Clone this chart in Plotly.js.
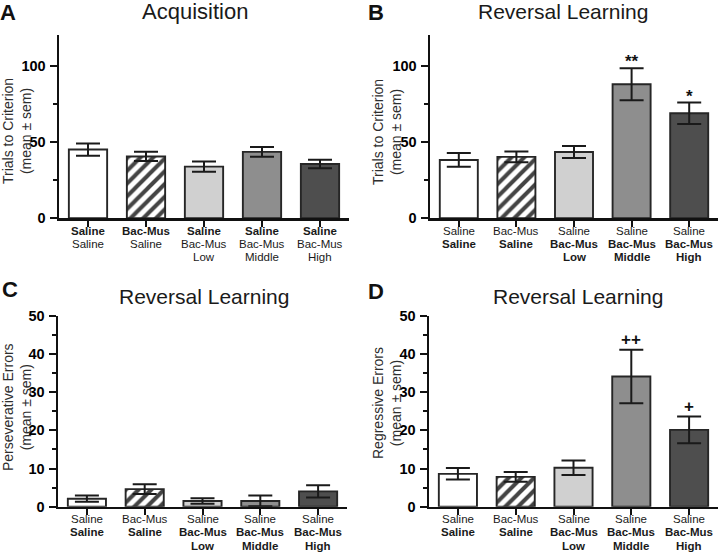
<!DOCTYPE html>
<html>
<head>
<meta charset="utf-8">
<script src="https://cdn.plot.ly/plotly-3.0.1.min.js"></script>
<style>
html,body{margin:0;padding:0;background:#fff;}
#chart{width:720px;height:552px;}
</style>
</head>
<body>
<div id="chart"></div>
<script>
// ---- Data ----
var categories = [0, 1, 2, 3, 4];
var groupNames = ["Saline/Saline", "Bac-Mus/Saline", "Saline/Bac-Mus Low", "Saline/Bac-Mus Middle", "Saline/Bac-Mus High"];

var ticksA = ["<b>Saline</b><br>Saline", "<b>Bac-Mus</b><br>Saline", "<b>Saline</b><br>Bac-Mus<br>Low", "<b>Saline</b><br>Bac-Mus<br>Middle", "<b>Saline</b><br>Bac-Mus<br>High"];
var ticksRev = ["Saline<br><b>Saline</b>", "Bac-Mus<br><b>Saline</b>", "Saline<br><b>Bac-Mus</b><br><b>Low</b>", "Saline<br><b>Bac-Mus</b><br><b>Middle</b>", "Saline<br><b>Bac-Mus</b><br><b>High</b>"];

var yTicksTrials = [0, 50, 100];
var yMinorTrials = [25, 75];
var yTicksErrors = [0, 10, 20, 30, 40, 50];
var yMinorErrors = [5, 15, 25, 35, 45];

var acqMean = [45, 40.5, 33.8, 43.5, 35.5];
var acqSem  = [4, 3, 3.3, 3.2, 2.8];

var revMean = [38.2, 40.2, 43.4, 87.8, 68.8];
var revSem  = [4.5, 3.5, 4, 10.5, 7];

var persMean = [2.1, 4.6, 1.5, 1.5, 4.0];
var persSem  = [0.8, 1.3, 0.7, 1.4, 1.6];

var regMean = [8.6, 7.8, 10.2, 34.1, 20.1];
var regSem  = [1.5, 1.3, 1.9, 7.0, 3.5];

var sigRev = ["", "", "", "**", "*"];
var sigReg = ["", "", "", "++", "+"];

// ---- Styling ----
var FONT = "Liberation Sans, Arial, sans-serif";
var fills = ["#ffffff", "#ffffff", "#d0d0d0", "#8e8e8e", "#4e4e4e"];
var shapes = ["", "/", "", "", ""];

function barTrace(means, sems, xa, ya) {
  return {
    type: "bar",
    x: categories,
    y: means,
    xaxis: xa, yaxis: ya,
    width: 0.66,
    name: "",
    hovertext: groupNames,
    textposition: "none",
    marker: {
      color: fills,
      line: {color: "#262626", width: 1.9},
      pattern: {shape: shapes, fgcolor: "#000000", fgopacity: 1, size: 9, solidity: 0.45, fillmode: "overlay"}
    },
    error_y: {type: "data", array: sems, visible: true, color: "#1a1a1a", thickness: 2, width: 12},
    showlegend: false
  };
}

var data = [
  barTrace(acqMean, acqSem, "x", "y"),
  barTrace(revMean, revSem, "x2", "y2"),
  barTrace(persMean, persSem, "x3", "y3"),
  barTrace(regMean, regSem, "x4", "y4")
];

function xAxis(dom, anchor) {
  return {
    domain: dom, anchor: anchor, range: [-0.5, 4.5],
    tickmode: "array", tickvals: categories, showticklabels: false,
    showline: true, linewidth: 2.5, linecolor: "#111",
    ticks: "outside", ticklen: 6, tickwidth: 2, tickcolor: "#111",
    showgrid: false, zeroline: false, fixedrange: true
  };
}
function yAxis(dom, anchor, rng, major, minor) {
  return {
    domain: dom, anchor: anchor, range: rng,
    tickmode: "array", tickvals: major,
    ticktext: major.map(function (v) { return "<b>" + v + "</b>"; }),
    showline: true, linewidth: 2.5, linecolor: "#111",
    ticks: "outside", ticklen: 7, tickwidth: 2, tickcolor: "#111",
    minor: {tickmode: "array", tickvals: minor, ticks: "outside", ticklen: 4, tickwidth: 2, tickcolor: "#111", showgrid: false},
    showgrid: false, zeroline: false, fixedrange: true,
    ticklabelstandoff: 1,
    tickfont: {family: FONT, size: 14.5, color: "#000"}
  };
}

var W = 720, H = 552;
function px(x) { return x / W; }
function py(y) { return 1 - y / H; }

var domAx = [px(59), px(349)], domBx = [px(430), px(718)];
var domCx = [px(58), px(347)], domDx = [px(429), px(718)];
var domTop = [py(218.2), py(35.2)], domBot = [py(506.7), py(315.7)];

var annotations = [];
function paperText(text, x, y, size, bold, color, angle) {
  annotations.push({
    xref: "paper", yref: "paper", x: px(x), y: py(y),
    xanchor: "center", yanchor: "middle", showarrow: false,
    text: bold ? "<b>" + text + "</b>" : text,
    textangle: angle || 0,
    font: {family: FONT, size: size, color: color || "#111"}
  });
}
// panel letters
paperText("A", 8, 12.5, 22, true);
paperText("B", 376, 12.5, 22, true);
paperText("C", 10, 289, 22, true);
paperText("D", 375.5, 291, 22, true);
// titles
paperText("Acquisition", 195, 12, 22, false, "#1a1a1a");
paperText("Reversal Learning", 563, 12, 21, false, "#1a1a1a");
paperText("Reversal Learning", 204, 296, 21, false, "#1a1a1a");
paperText("Reversal Learning", 578, 297, 21, false, "#1a1a1a");
// y-axis titles
paperText("Trials to Criterion<br>(mean ± sem)", 17, 131, 14, false, "#2e2e2e", -90);
paperText("Trials to Criterion<br>(mean ± sem)", 387, 132, 14, false, "#2e2e2e", -90);
paperText("Perseverative Errors<br>(mean ± sem)", 17, 407, 14, false, "#2e2e2e", -90);
paperText("Regressive Errors<br>(mean ± sem)", 387, 403, 14, false, "#2e2e2e", -90);

// category labels (one line each, tight spacing as in the reference)
function catLabels(ticks, xr, axisPx) {
  var offs = [12.3, 25.6, 38.9];
  for (var i = 0; i < ticks.length; i++) {
    var lines = ticks[i].split("<br>");
    for (var j = 0; j < lines.length; j++) {
      annotations.push({
        xref: xr, yref: "paper", x: categories[i], y: py(axisPx + offs[j]),
        xanchor: "center", yanchor: "middle", showarrow: false,
        text: lines[j],
        font: {family: FONT, size: 11.5, color: "#1a1a1a"}
      });
    }
  }
}
catLabels(ticksA, "x", 218.2);
catLabels(ticksRev, "x2", 218.2);
catLabels(ticksRev, "x3", 506.7);
catLabels(ticksRev, "x4", 506.7);

// significance marks
function sigMarks(marks, means, sems, xr, yr, yshift) {
  for (var i = 0; i < marks.length; i++) {
    if (!marks[i]) continue;
    annotations.push({
      xref: xr, yref: yr, x: categories[i], y: means[i] + sems[i],
      xanchor: "center", yanchor: "bottom", showarrow: false, yshift: yshift,
      text: "<b>" + marks[i] + "</b>",
      font: {family: FONT, size: 17, color: "#111"}
    });
  }
}
sigMarks(sigRev, revMean, revSem, "x2", "y2", -5);
sigMarks(sigReg, regMean, regSem, "x4", "y4", -1);

var layout = {
  width: W, height: H,
  margin: {l: 0, r: 0, t: 0, b: 0},
  paper_bgcolor: "#ffffff", plot_bgcolor: "#ffffff",
  font: {family: FONT, color: "#111"},
  xaxis: xAxis(domAx, "y"),
  yaxis: yAxis(domTop, "x", [0, 120], yTicksTrials, yMinorTrials),
  xaxis2: xAxis(domBx, "y2"),
  yaxis2: yAxis(domTop, "x2", [0, 120], yTicksTrials, yMinorTrials),
  xaxis3: xAxis(domCx, "y3"),
  yaxis3: yAxis(domBot, "x3", [0, 50], yTicksErrors, yMinorErrors),
  xaxis4: xAxis(domDx, "y4"),
  yaxis4: yAxis(domBot, "x4", [0, 50], yTicksErrors, yMinorErrors),
  annotations: annotations
};

Plotly.newPlot("chart", data, layout, {displayModeBar: false, staticPlot: true});
</script>
</body>
</html>
